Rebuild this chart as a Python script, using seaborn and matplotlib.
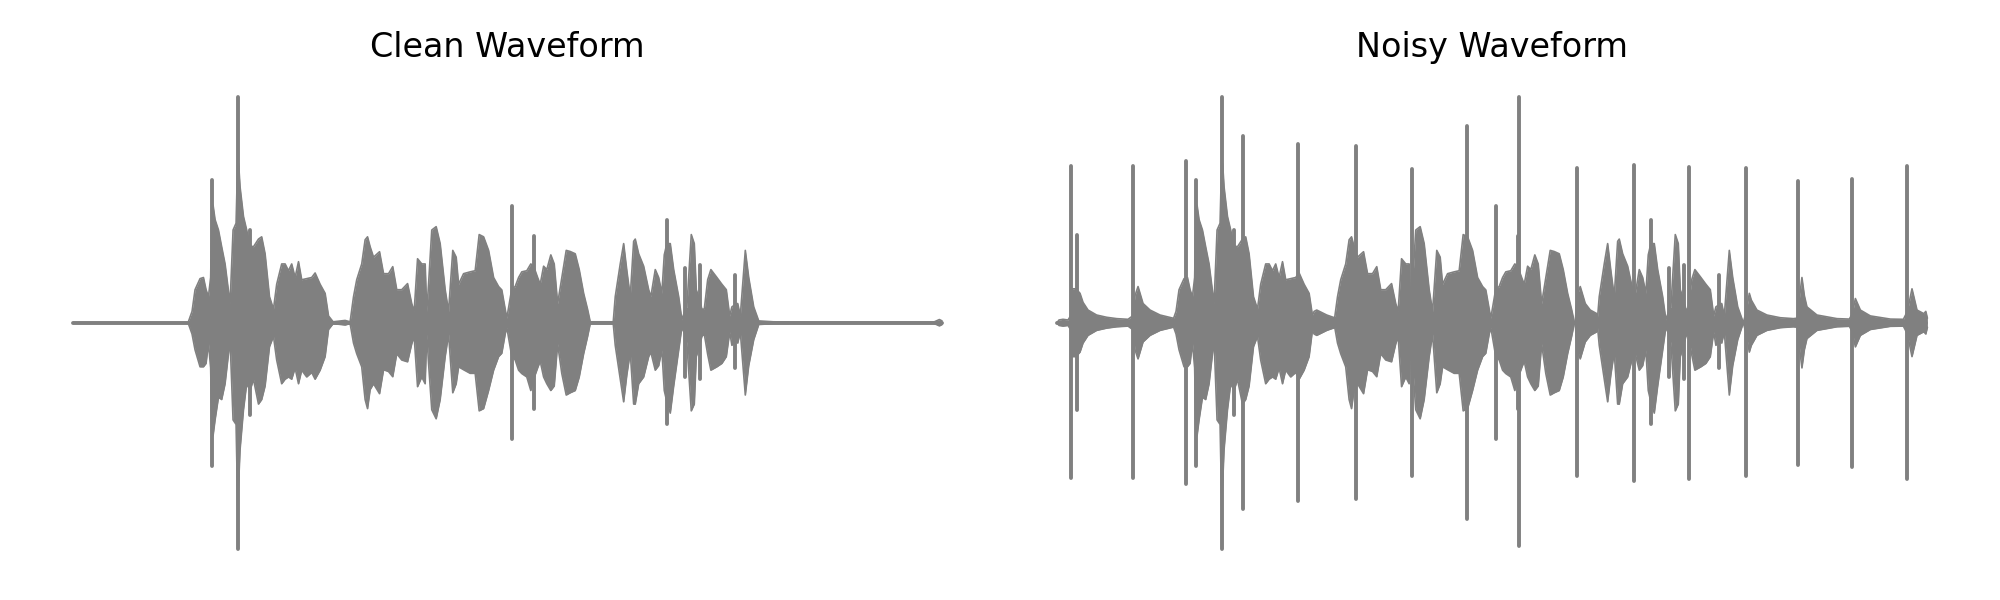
import numpy as np
import pandas as pd
import seaborn as sns
import matplotlib.pyplot as plt

# envelope of the clean speech waveform (time in s, amplitude normalised to peak = 1)
clean_t = [
    0.000, 0.575, 0.595, 0.610, 0.635, 0.652, 0.665, 0.677, 0.688, 0.693,
    0.700, 0.710, 0.727, 0.743, 0.760, 0.785, 0.800, 0.815, 0.823, 0.828,
    0.835, 0.852, 0.868, 0.885, 0.902, 0.927, 0.943, 0.960, 0.982, 1.002,
    1.018, 1.043, 1.060, 1.077, 1.093, 1.110, 1.127, 1.143, 1.168, 1.193,
    1.210, 1.235, 1.260, 1.277, 1.300, 1.360, 1.385, 1.402, 1.418, 1.443,
    1.460, 1.472, 1.485, 1.502, 1.532, 1.552, 1.577, 1.598, 1.618, 1.643,
    1.672, 1.693, 1.705, 1.722, 1.743, 1.760, 1.768, 1.777, 1.793, 1.815,
    1.835, 1.860, 1.877, 1.898, 1.915, 1.927, 1.952, 1.985, 2.010, 2.030,
    2.052, 2.077, 2.102, 2.127, 2.143, 2.160, 2.168, 2.193, 2.210, 2.227,
    2.243, 2.268, 2.288, 2.302, 2.322, 2.335, 2.352, 2.368, 2.388, 2.405,
    2.422, 2.443, 2.465, 2.485, 2.510, 2.530, 2.552, 2.572, 2.585, 2.700,
    2.710, 2.735, 2.752, 2.768, 2.785, 2.802, 2.810, 2.827, 2.852, 2.877,
    2.888, 2.910, 2.927, 2.943, 2.955, 2.968, 2.985, 3.002, 3.027, 3.043,
    3.057, 3.068, 3.090, 3.105, 3.115, 3.132, 3.143, 3.155, 3.172, 3.188,
    3.218, 3.243, 3.265, 3.282, 3.293, 3.310, 3.322, 3.335, 3.360, 3.377,
    3.402, 3.427, 3.500, 3.600, 3.800, 4.000, 4.300, 4.330, 4.343,
]
clean_up = [
    0.000, 0.000, 0.050, 0.146, 0.195, 0.200, 0.146, 0.115, 0.200, 0.450,
    0.520, 0.456, 0.410, 0.336, 0.260, 0.084, 0.410, 0.440, 0.720, 0.700,
    0.600, 0.470, 0.410, 0.340, 0.336, 0.370, 0.380, 0.305, 0.115, 0.060,
    0.170, 0.260, 0.260, 0.230, 0.260, 0.200, 0.270, 0.190, 0.195, 0.200,
    0.220, 0.170, 0.130, 0.030, 0.004, 0.010, 0.004, 0.115, 0.190, 0.260,
    0.367, 0.380, 0.336, 0.290, 0.314, 0.217, 0.217, 0.248, 0.146, 0.146,
    0.173, 0.084, 0.050, 0.283, 0.260, 0.260, 0.050, 0.170, 0.410, 0.425,
    0.350, 0.146, 0.050, 0.320, 0.290, 0.170, 0.217, 0.225, 0.230, 0.390,
    0.380, 0.320, 0.200, 0.160, 0.145, 0.060, 0.020, 0.150, 0.160, 0.200,
    0.225, 0.230, 0.260, 0.250, 0.200, 0.170, 0.250, 0.235, 0.300, 0.260,
    0.084, 0.200, 0.320, 0.315, 0.305, 0.235, 0.130, 0.058, 0.004, 0.004,
    0.115, 0.260, 0.350, 0.230, 0.115, 0.360, 0.370, 0.305, 0.250, 0.146,
    0.115, 0.235, 0.200, 0.130, 0.300, 0.350, 0.350, 0.235, 0.115, 0.013,
    0.050, 0.070, 0.390, 0.350, 0.146, 0.100, 0.060, 0.060, 0.190, 0.235,
    0.200, 0.170, 0.146, 0.030, 0.070, 0.080, 0.085, 0.030, 0.320, 0.200,
    0.070, 0.008, 0.004, 0.003, 0.002, 0.002, 0.002, 0.014, 0.008,
]
clean_down = [
    0.000, 0.000, 0.050, 0.120, 0.195, 0.195, 0.180, 0.090, 0.200, 0.450,
    0.500, 0.430, 0.330, 0.340, 0.270, 0.075, 0.430, 0.450, 0.810, 0.710,
    0.560, 0.385, 0.270, 0.300, 0.250, 0.360, 0.340, 0.280, 0.106, 0.060,
    0.165, 0.270, 0.250, 0.240, 0.250, 0.200, 0.270, 0.210, 0.240, 0.220,
    0.250, 0.210, 0.150, 0.030, 0.004, 0.010, 0.004, 0.090, 0.137, 0.195,
    0.340, 0.380, 0.296, 0.270, 0.314, 0.208, 0.216, 0.239, 0.137, 0.165,
    0.173, 0.093, 0.060, 0.283, 0.240, 0.270, 0.050, 0.180, 0.385, 0.425,
    0.340, 0.150, 0.050, 0.310, 0.270, 0.195, 0.208, 0.224, 0.224, 0.390,
    0.380, 0.300, 0.210, 0.150, 0.135, 0.050, 0.020, 0.150, 0.165, 0.210,
    0.225, 0.240, 0.300, 0.250, 0.200, 0.170, 0.240, 0.270, 0.300, 0.280,
    0.093, 0.225, 0.320, 0.310, 0.300, 0.240, 0.137, 0.060, 0.004, 0.004,
    0.100, 0.250, 0.350, 0.230, 0.130, 0.360, 0.360, 0.270, 0.240, 0.150,
    0.130, 0.210, 0.190, 0.120, 0.300, 0.350, 0.400, 0.280, 0.120, 0.020,
    0.050, 0.090, 0.390, 0.360, 0.150, 0.100, 0.060, 0.050, 0.140, 0.210,
    0.195, 0.180, 0.150, 0.040, 0.100, 0.080, 0.090, 0.040, 0.320, 0.190,
    0.075, 0.008, 0.004, 0.003, 0.002, 0.002, 0.002, 0.014, 0.008,
]

# narrow peaks sticking out of the clean envelope
peak_t = [0.693, 0.823, 0.885, 2.193, 2.302, 2.968, 3.057, 3.132, 3.310]
peak_up = [0.633, 1.000, 0.410, 0.516, 0.385, 0.456, 0.240, 0.257, 0.210]
peak_down = [0.633, 1.000, 0.410, 0.516, 0.380, 0.450, 0.240, 0.250, 0.200]

# clicks added in the noisy version
click_t = [0.070, 0.0985, 0.3785, 0.645, 0.9315, 1.2035, 1.495, 1.775, 2.0515,
           2.310, 2.5985, 2.8815, 3.1565, 3.445, 3.7015, 3.9735, 4.2485]
click_up = [0.693, 0.390, 0.693, 0.715, 0.826, 0.790, 0.780, 0.680, 0.870,
            1.000, 0.683, 0.700, 0.690, 0.683, 0.628, 0.636, 0.693]
click_down = [0.689, 0.386, 0.689, 0.714, 0.826, 0.790, 0.780, 0.680, 0.870,
              0.990, 0.680, 0.700, 0.690, 0.680, 0.630, 0.637, 0.693]

# ringing tails after the clicks (only visible in the pauses)
tail_t = [
    0.000, 0.010, 0.030, 0.055, 0.068, 0.075, 0.095, 0.115, 0.130, 0.155,
    0.198, 0.248, 0.298, 0.355, 0.378, 0.390, 0.405, 0.430, 0.465, 0.515,
    0.580, 0.600, 1.275, 1.285, 1.298, 1.348, 1.380, 1.400, 1.410, 2.590,
    2.600, 2.615, 2.640, 2.665, 2.698, 2.710, 3.430, 3.445, 3.460, 3.470,
    3.498, 3.548, 3.615, 3.680, 3.700, 3.712, 3.723, 3.735, 3.748, 3.798,
    3.898, 3.960, 3.975, 3.990, 4.015, 4.065, 4.165, 4.230, 4.250, 4.273,
    4.298, 4.332, 4.342, 4.350,
]
tail_amp = [
    0.000, 0.012, 0.015, 0.012, 0.030, 0.150, 0.150, 0.130, 0.090, 0.056,
    0.034, 0.024, 0.018, 0.015, 0.030, 0.120, 0.160, 0.085, 0.056, 0.034,
    0.020, 0.000, 0.030, 0.050, 0.056, 0.034, 0.024, 0.020, 0.000, 0.000,
    0.120, 0.160, 0.085, 0.056, 0.040, 0.000, 0.000, 0.050, 0.130, 0.100,
    0.056, 0.034, 0.022, 0.018, 0.020, 0.120, 0.200, 0.120, 0.070, 0.034,
    0.018, 0.016, 0.040, 0.107, 0.056, 0.030, 0.016, 0.015, 0.050, 0.150,
    0.056, 0.040, 0.050, 0.020,
]

assert len(clean_t) == len(clean_up) == len(clean_down)
assert len(tail_t) == len(tail_amp)

clean = pd.DataFrame({'t': clean_t, 'upper': clean_up, 'lower': np.negative(clean_down)})
clean['center'] = 0.0
tails = pd.DataFrame({'t': tail_t, 'upper': tail_amp, 'lower': np.negative(tail_amp)})

sns.set_theme(style='white')
color = 'gray'
lw = 1.4

fig, axes = plt.subplots(1, 2, figsize=(10, 3))


def draw_env(ax, df):
    ax.fill_between(df['t'], df['lower'], df['upper'], color=color, lw=0)
    sns.lineplot(data=df, x='t', y='upper', color=color, lw=0.6, ax=ax, errorbar=None)
    sns.lineplot(data=df, x='t', y='lower', color=color, lw=0.6, ax=ax, errorbar=None)


def draw_spikes(ax, t, up, down):
    vl = ax.vlines(t, np.negative(down), up, color=color, lw=lw)
    vl.set_capstyle('round')


for ax, title in zip(axes, ['Clean Waveform', 'Noisy Waveform']):
    draw_env(ax, clean)
    sns.lineplot(data=clean, x='t', y='center', color=color, lw=lw, ax=ax,
                 errorbar=None, solid_capstyle='round')
    draw_spikes(ax, peak_t, peak_up, peak_down)
    ax.set_title(title, fontsize=12, color='black')

draw_env(axes[1], tails)
draw_spikes(axes[1], click_t, click_up, click_down)

t_end = clean_t[-1]
for ax, left in zip(axes, [0.014775, 0.506775]):
    ax.set_xlim(-0.05 * t_end, 1.05 * t_end)
    ax.set_ylim(-1.1, 1.1)
    ax.set_position([left, 0.0478, 0.47795, 0.8287])
    ax.axis('off')

plt.savefig('out.png', dpi=200)
